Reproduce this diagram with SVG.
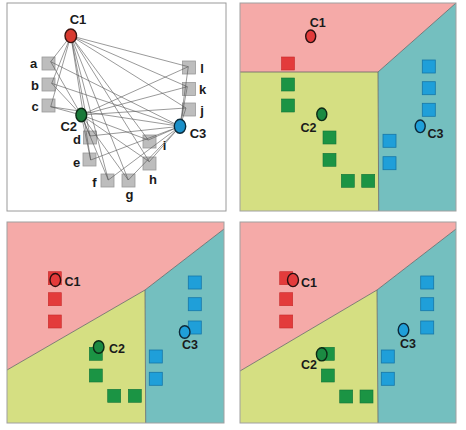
<svg xmlns="http://www.w3.org/2000/svg" width="466" height="430" viewBox="0 0 466 430">
<style>
.lbl{font-family:"Liberation Sans",Arial,sans-serif;font-weight:bold;font-size:13px;fill:#1a1a1a;text-anchor:middle}
.lbs{font-family:"Liberation Sans",Arial,sans-serif;font-weight:bold;font-size:12.5px;fill:#1a1a1a;text-anchor:middle}
.gsq{fill:#bdbdbd;stroke:#9a9a9a;stroke-width:0.8}
.rsq{fill:#e33b3b;stroke:#c62a2a;stroke-width:0.6}
.gnsq{fill:#1b9444;stroke:#14733a;stroke-width:0.6}
.bsq{fill:#1f9fd9;stroke:#1677a8;stroke-width:0.8}
.conn line{stroke:#555;stroke-width:0.6}
.pink{fill:#f5aaa8}
.ylw{fill:#d5df82}
.teal{fill:#74bfbf}
.bnd{fill:none;stroke:#666;stroke-width:0.8}
.frame{fill:none;stroke:#a0a0a0;stroke-width:1}
.c1{fill:#e33b3b;stroke:#2a1010;stroke-width:1.4}
.c2{fill:#1b8a42;stroke:#0d2a15;stroke-width:1.4}
.c3{fill:#1f9fd9;stroke:#0d2a3a;stroke-width:1.4}
</style>

<!-- Panel 1 -->
<g id="panel1">
<rect x="7" y="3" width="219" height="208" fill="#fff" stroke="#9a9a9a" stroke-width="1"/>
<g id="node-a"><rect class="gsq" x="42" y="57" width="13" height="13"/><text class="lbl" x="33.5" y="68">a</text></g>
<g id="node-b"><rect class="gsq" x="42" y="78" width="13" height="13"/><text class="lbl" x="35" y="90">b</text></g>
<g id="node-c"><rect class="gsq" x="42" y="99" width="13" height="13"/><text class="lbl" x="35" y="111">c</text></g>
<g id="node-d"><rect class="gsq" x="83.5" y="131" width="13" height="13"/><text class="lbl" x="77" y="144">d</text></g>
<g id="node-e"><rect class="gsq" x="83" y="153" width="13" height="13"/><text class="lbl" x="76.5" y="166.5">e</text></g>
<g id="node-f"><rect class="gsq" x="101" y="174" width="13" height="13"/><text class="lbl" x="94.5" y="187">f</text></g>
<g id="node-g"><rect class="gsq" x="122" y="174" width="13" height="13"/><text class="lbl" x="129.5" y="199">g</text></g>
<g id="node-h"><rect class="gsq" x="143" y="157" width="13" height="13"/><text class="lbl" x="153" y="184">h</text></g>
<g id="node-i"><rect class="gsq" x="143" y="135" width="13" height="13"/><text class="lbl" x="164.5" y="150">i</text></g>
<g id="node-j"><rect class="gsq" x="182.5" y="103" width="13" height="13"/><text class="lbl" x="202" y="115">j</text></g>
<g id="node-k"><rect class="gsq" x="182.5" y="82.5" width="13" height="13"/><text class="lbl" x="202.5" y="94">k</text></g>
<g id="node-l"><rect class="gsq" x="182.5" y="61" width="13" height="13"/><text class="lbl" x="202" y="73">l</text></g>

<g id="connectors" class="conn">
<line x1="70.8" y1="35.8" x2="50.7" y2="61.7"/>
<line x1="70.8" y1="35.8" x2="51.7" y2="83.3"/>
<line x1="70.8" y1="35.8" x2="50.7" y2="106.7"/>
<line x1="70.8" y1="35.8" x2="90" y2="136"/>
<line x1="70.8" y1="35.8" x2="90.7" y2="160"/>
<line x1="70.8" y1="35.8" x2="108.3" y2="180"/>
<line x1="70.8" y1="35.8" x2="128.3" y2="180"/>
<line x1="70.8" y1="35.8" x2="149.3" y2="161.7"/>
<line x1="70.8" y1="35.8" x2="148.3" y2="140"/>
<line x1="70.8" y1="35.8" x2="186" y2="108"/>
<line x1="70.8" y1="35.8" x2="187.3" y2="86.7"/>
<line x1="70.8" y1="35.8" x2="188.3" y2="66.7"/>
<line x1="81.3" y1="115" x2="50.7" y2="61.7"/>
<line x1="81.3" y1="115" x2="51.7" y2="83.3"/>
<line x1="81.3" y1="115" x2="50.7" y2="106.7"/>
<line x1="81.3" y1="115" x2="90" y2="136"/>
<line x1="81.3" y1="115" x2="90.7" y2="160"/>
<line x1="81.3" y1="115" x2="108.3" y2="180"/>
<line x1="81.3" y1="115" x2="128.3" y2="180"/>
<line x1="81.3" y1="115" x2="149.3" y2="161.7"/>
<line x1="81.3" y1="115" x2="148.3" y2="140"/>
<line x1="81.3" y1="115" x2="186" y2="108"/>
<line x1="81.3" y1="115" x2="187.3" y2="86.7"/>
<line x1="81.3" y1="115" x2="188.3" y2="66.7"/>
<line x1="180" y1="126.3" x2="50.7" y2="61.7"/>
<line x1="180" y1="126.3" x2="51.7" y2="83.3"/>
<line x1="180" y1="126.3" x2="50.7" y2="106.7"/>
<line x1="180" y1="126.3" x2="90" y2="136"/>
<line x1="180" y1="126.3" x2="90.7" y2="160"/>
<line x1="180" y1="126.3" x2="108.3" y2="180"/>
<line x1="180" y1="126.3" x2="128.3" y2="180"/>
<line x1="180" y1="126.3" x2="149.3" y2="161.7"/>
<line x1="180" y1="126.3" x2="148.3" y2="140"/>
<line x1="180" y1="126.3" x2="186" y2="108"/>
<line x1="180" y1="126.3" x2="187.3" y2="86.7"/>
<line x1="180" y1="126.3" x2="188.3" y2="66.7"/>
</g>

<g id="node-C1"><ellipse cx="70.8" cy="35.8" rx="5.8" ry="6.8" fill="#d83a30" stroke="#3a1410" stroke-width="1.4"/><text class="lbl" x="78" y="24">C1</text></g>
<g id="node-C2"><ellipse cx="81.3" cy="115" rx="5.4" ry="6.7" fill="#1a7a3a" stroke="#0b2a14" stroke-width="1.4"/><text class="lbl" x="68.7" y="130.7">C2</text></g>
<g id="node-C3"><ellipse cx="180" cy="126.3" rx="5.7" ry="7" fill="#1a8fc8" stroke="#0b2a3a" stroke-width="1.4"/><text class="lbl" x="198" y="138.3">C3</text></g>
</g>

<!-- Panel 2 -->
<g id="panel2">
<polygon class="pink" points="240,3 456,3 378,72 240,72"/>
<polygon class="ylw" points="240,72 378,72 378.7,211 240,211"/>
<polygon class="teal" points="378,72 456,3 456,211 378.7,211"/>
<polyline class="bnd" points="240,72 378,72 456,3"/>
<line class="bnd" x1="378" y1="72" x2="378.7" y2="211"/>
<rect class="frame" x="240" y="3" width="216" height="208"/>
<rect class="rsq" x="281.5" y="57" width="13" height="13"/>
<rect class="gnsq" x="281.5" y="78" width="13" height="13"/>
<rect class="gnsq" x="281.5" y="99" width="13" height="13"/>
<rect class="gnsq" x="323" y="131" width="13" height="13"/>
<rect class="gnsq" x="323" y="153.3" width="13" height="13"/>
<rect class="gnsq" x="341.3" y="174.3" width="13" height="13"/>
<rect class="gnsq" x="361.7" y="174.3" width="13" height="13"/>
<rect class="bsq" x="383" y="134.3" width="13" height="13"/>
<rect class="bsq" x="383" y="156.7" width="13" height="13"/>
<rect class="bsq" x="422.3" y="60" width="13" height="13"/>
<rect class="bsq" x="422.3" y="81.7" width="13" height="13"/>
<rect class="bsq" x="422.3" y="103.3" width="13" height="13"/>
<g id="p2-C1"><ellipse class="c1" cx="310.7" cy="36.3" rx="5" ry="6.3"/><text class="lbs" x="317.7" y="27.3">C1</text></g>
<g id="p2-C2"><ellipse class="c2" cx="321.8" cy="114.3" rx="5" ry="6.3"/><text class="lbs" x="308.5" y="131.7">C2</text></g>
<g id="p2-C3"><ellipse class="c3" cx="420.2" cy="126.3" rx="5" ry="6.3"/><text class="lbs" x="435.5" y="137.7">C3</text></g>
</g>

<!-- Panel 3 -->
<g id="panel3">
<polygon class="pink" points="7,222 224,222 224,229 145,290 7,370"/>
<polygon class="ylw" points="7,370 145,290 145.7,423 7,423"/>
<polygon class="teal" points="145,290 224,229 224,423 145.7,423"/>
<polyline class="bnd" points="7,370 145,290 224,229"/>
<line class="bnd" x1="145" y1="290" x2="145.7" y2="423"/>
<rect class="frame" x="7" y="222" width="217" height="201"/>
<rect class="rsq" x="48.3" y="271.7" width="13" height="13"/>
<rect class="rsq" x="48.3" y="292.7" width="13" height="13"/>
<rect class="rsq" x="48.3" y="315" width="13" height="13"/>
<rect class="gnsq" x="89.3" y="347.3" width="13" height="13"/>
<rect class="gnsq" x="89.3" y="369" width="13" height="13"/>
<rect class="gnsq" x="107.7" y="389.3" width="13" height="13"/>
<rect class="gnsq" x="128.3" y="389.3" width="13" height="13"/>
<rect class="bsq" x="149.3" y="350" width="13" height="13"/>
<rect class="bsq" x="149.3" y="372.3" width="13" height="13"/>
<rect class="bsq" x="188.3" y="276" width="13" height="13"/>
<rect class="bsq" x="188.3" y="297.7" width="13" height="13"/>
<rect class="bsq" x="188.3" y="321" width="13" height="13"/>
<g id="p3-C1"><ellipse class="c1" cx="55.3" cy="280" rx="5.3" ry="6.5"/><text class="lbs" x="72.5" y="285.7">C1</text></g>
<g id="p3-C2"><ellipse class="c2" cx="98.7" cy="347" rx="5.3" ry="6.3"/><text class="lbs" x="117" y="353.3">C2</text></g>
<g id="p3-C3"><ellipse class="c3" cx="184.7" cy="332" rx="5.3" ry="6.3"/><text class="lbs" x="190" y="349.3">C3</text></g>
</g>

<!-- Panel 4 -->
<g id="panel4">
<polygon class="pink" points="240,222 456,222 456,229 377,290 240,371"/>
<polygon class="ylw" points="240,371 377,290 378,423 240,423"/>
<polygon class="teal" points="377,290 456,229 456,423 378,423"/>
<polyline class="bnd" points="240,371 377,290 456,229"/>
<line class="bnd" x1="377" y1="290" x2="378" y2="423"/>
<rect class="frame" x="240" y="222" width="216" height="201"/>
<rect class="rsq" x="279.7" y="271.7" width="13" height="13"/>
<rect class="rsq" x="279.7" y="292.7" width="13" height="13"/>
<rect class="rsq" x="279.7" y="315" width="13" height="13"/>
<rect class="gnsq" x="321.3" y="347.3" width="13" height="13"/>
<rect class="gnsq" x="321.3" y="369" width="13" height="13"/>
<rect class="gnsq" x="339.7" y="390" width="13" height="13"/>
<rect class="gnsq" x="360" y="390" width="13" height="13"/>
<rect class="bsq" x="381.3" y="350" width="13" height="13"/>
<rect class="bsq" x="381.3" y="372.3" width="13" height="13"/>
<rect class="bsq" x="420.7" y="276" width="13" height="13"/>
<rect class="bsq" x="420.7" y="297.7" width="13" height="13"/>
<rect class="bsq" x="420.7" y="321" width="13" height="13"/>
<g id="p4-C1"><ellipse class="c1" cx="293" cy="280" rx="5.5" ry="6.6"/><text class="lbs" x="309" y="286.7">C1</text></g>
<g id="p4-C2"><ellipse class="c2" cx="321.7" cy="354.3" rx="5.3" ry="6.6"/><text class="lbs" x="309" y="369">C2</text></g>
<g id="p4-C3"><ellipse class="c3" cx="403.5" cy="330" rx="5.3" ry="6.6"/><text class="lbs" x="408" y="348.3">C3</text></g>
</g>
</svg>
